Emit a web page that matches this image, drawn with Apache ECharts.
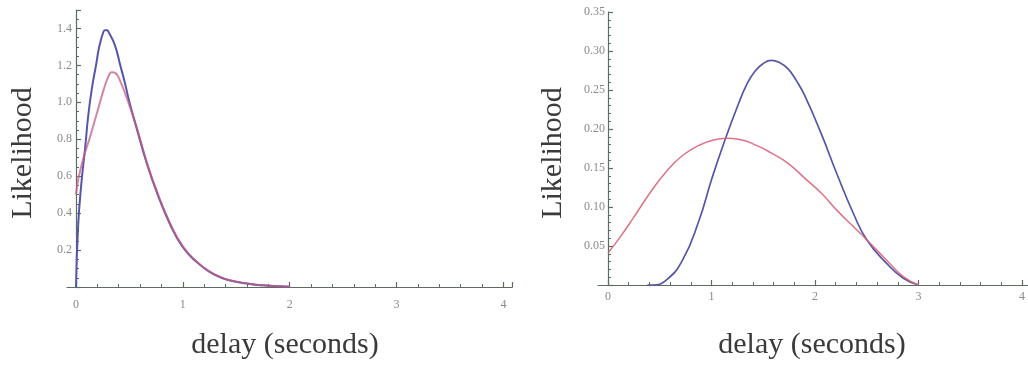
<!DOCTYPE html>
<html>
<head>
<meta charset="utf-8">
<script src="https://cdn.jsdelivr.net/npm/echarts@6/dist/echarts.min.js"></script>
<style>
  html, body { margin: 0; padding: 0; background: #ffffff; }
  #chart { width: 1028px; height: 369px; }
</style>
</head>
<body>
<div id="chart"></div>
<script>
// ---- Data ----
const xTickLabels = ['0', '1', '2', '3', '4'];

// Left panel
const leftBlueX = [0, 0.02, 0.05, 0.085, 0.115, 0.15, 0.19, 0.21, 0.23, 0.25, 0.27, 0.29, 0.31, 0.35, 0.38, 0.41, 0.46, 0.5, 0.57, 0.66, 0.755, 0.88, 1.0, 1.13, 1.25, 1.38, 1.5, 1.63, 1.75, 1.9, 2.0];
const leftBlueY = [0, 0.33, 0.56, 0.75, 0.93, 1.08, 1.21, 1.28, 1.33, 1.37, 1.39, 1.39, 1.375, 1.33, 1.28, 1.21, 1.1, 1.0, 0.855, 0.675, 0.515, 0.34, 0.215, 0.135, 0.082, 0.046, 0.028, 0.016, 0.009, 0.004, 0.002];
const leftRedX  = [0, 0.02, 0.07, 0.13, 0.19, 0.26, 0.30, 0.334, 0.37, 0.41, 0.49, 0.57, 0.66, 0.755, 0.88, 1.0, 1.13, 1.25, 1.38, 1.5, 1.63, 1.75, 1.9, 2.0];
const leftRedY  = [0.5, 0.58, 0.70, 0.81, 0.93, 1.07, 1.135, 1.163, 1.158, 1.12, 1.0, 0.86, 0.68, 0.52, 0.345, 0.22, 0.137, 0.083, 0.047, 0.029, 0.016, 0.009, 0.004, 0.002];

// Right panel
const rightBlueX = [0.38, 0.43, 0.56, 0.72, 0.88, 1.0, 1.13, 1.26, 1.34, 1.42, 1.50, 1.58, 1.66, 1.74, 1.82, 1.90, 2.06, 2.21, 2.37, 2.50, 2.69, 2.85, 3.0];
const rightBlueY = [0, 0, 0.006, 0.032, 0.083, 0.135, 0.186, 0.232, 0.257, 0.274, 0.284, 0.288, 0.285, 0.277, 0.262, 0.243, 0.194, 0.143, 0.092, 0.058, 0.028, 0.009, 0];
const rightRedX  = [0, 0.115, 0.24, 0.40, 0.56, 0.72, 0.88, 1.02, 1.15, 1.26, 1.45, 1.58, 1.74, 1.90, 2.06, 2.21, 2.37, 2.50, 2.69, 2.85, 3.0];
const rightRedY  = [0.041, 0.061, 0.085, 0.117, 0.145, 0.166, 0.179, 0.186, 0.188, 0.187, 0.178, 0.169, 0.156, 0.137, 0.118, 0.096, 0.075, 0.058, 0.032, 0.011, 0];

const yTitle = 'Likelihood';
const xTitle = 'delay (seconds)';

// ---- Helpers ----
const zip = (xs, ys) => xs.map((x, i) => [x, ys[i]]);
const AXIS_COLOR = '#5b6d60';
const LABEL_COLOR = '#8a8a8a';
const TITLE_COLOR = '#3a3a3a';
const SERIF = '"Liberation Serif", "DejaVu Serif", serif';
const BLUE = '#5656a8';

function xAxisMain(gridIndex, max, labelMargin, showMax) {
  return {
    type: 'value', gridIndex, min: 0, max, interval: 1,
    axisLine: { show: true, lineStyle: { color: AXIS_COLOR, width: 1.2 } },
    axisTick: { show: true, inside: true, length: 5, lineStyle: { color: AXIS_COLOR, width: 1.2 } },
    minorTick: { show: true, splitNumber: 5, length: 3, lineStyle: { color: AXIS_COLOR, width: 1 } },
    axisLabel: {
      show: true, margin: labelMargin, color: LABEL_COLOR, fontFamily: SERIF, fontSize: 12,
      showMaxLabel: showMax,
      formatter: v => { const i = Math.round(v); return (Math.abs(v - i) < 1e-9 && xTickLabels[i] !== undefined) ? xTickLabels[i] : ''; }
    },
    splitLine: { show: false }, minorSplitLine: { show: false }
  };
}
function xAxisExt(gridIndex) {
  return {
    type: 'value', gridIndex, min: 0, max: 1,
    axisLine: { show: true, lineStyle: { color: AXIS_COLOR, width: 1.2 } },
    axisTick: { show: false }, axisLabel: { show: false }, splitLine: { show: false }
  };
}
function yAxisMain(gridIndex, max, interval, minorSplit, digits, margin) {
  return {
    type: 'value', gridIndex, min: 0, max, interval,
    axisLine: { show: true, lineStyle: { color: AXIS_COLOR, width: 1.2 } },
    axisTick: { show: true, inside: true, length: 5, lineStyle: { color: AXIS_COLOR, width: 1.2 } },
    minorTick: { show: true, splitNumber: minorSplit, length: 3, lineStyle: { color: AXIS_COLOR, width: 1 } },
    axisLabel: {
      show: true, margin, color: LABEL_COLOR, fontFamily: SERIF, fontSize: 12,
      showMinLabel: false,
      formatter: v => (Math.abs(v - Math.round(v / interval) * interval) < 1e-9 ? v.toFixed(digits) : '')
    },
    splitLine: { show: false }, minorSplitLine: { show: false }
  };
}
function yAxisHidden(gridIndex) {
  return { type: 'value', gridIndex, min: 0, max: 1, show: false };
}
function lineSeries(xi, yi, data, color, width, opacity, z) {
  return {
    type: 'line', xAxisIndex: xi, yAxisIndex: yi, data,
    showSymbol: false, symbol: 'none', smooth: 0.5, z,
    lineStyle: { color, width, opacity }, silent: true
  };
}

const chart = echarts.init(document.getElementById('chart'), null, { renderer: 'canvas' });
chart.setOption({
  animation: false,
  backgroundColor: '#ffffff',
  grid: [
    { left: 76, right: 516, top: 10, bottom: 82 },   // left main
    { left: 67, right: 516, top: 10, bottom: 82 },   // left x-axis overhang
    { left: 608, right: 1, top: 12, bottom: 84 },    // right main
    { left: 598, right: 0, top: 12, bottom: 84 }     // right x-axis overhang
  ],
  xAxis: [
    xAxisMain(0, 4.08, 12, false),
    xAxisExt(1),
    xAxisMain(2, 4, 6, true),
    xAxisExt(3)
  ],
  yAxis: [
    yAxisMain(0, 1.5, 0.2, 4, 1, 4),
    yAxisHidden(1),
    yAxisMain(2, 0.35, 0.05, 5, 2, 3),
    yAxisHidden(3)
  ],
  series: [
    lineSeries(0, 0, zip(leftBlueX, leftBlueY), BLUE, 2, 1, 3),
    lineSeries(0, 0, zip(leftRedX, leftRedY), '#c65c86', 2, 0.75, 4),
    lineSeries(2, 2, zip(rightBlueX, rightBlueY), BLUE, 1.7, 1, 3),
    lineSeries(2, 2, zip(rightRedX, rightRedY), '#d9647a', 1.5, 0.9, 4)
  ],
  graphic: [
    { type: 'text', x: 23, y: 153, rotation: Math.PI / 2,
      style: { text: yTitle, font: '30px ' + SERIF, fill: TITLE_COLOR, align: 'center', verticalAlign: 'middle' } },
    { type: 'text', x: 553, y: 153, rotation: Math.PI / 2,
      style: { text: yTitle, font: '30px ' + SERIF, fill: TITLE_COLOR, align: 'center', verticalAlign: 'middle' } },
    { type: 'text', x: 285, y: 345,
      style: { text: xTitle, font: '30px ' + SERIF, fill: TITLE_COLOR, align: 'center', verticalAlign: 'middle' } },
    { type: 'text', x: 812, y: 345,
      style: { text: xTitle, font: '30px ' + SERIF, fill: TITLE_COLOR, align: 'center', verticalAlign: 'middle' } }
  ]
});
</script>
</body>
</html>
